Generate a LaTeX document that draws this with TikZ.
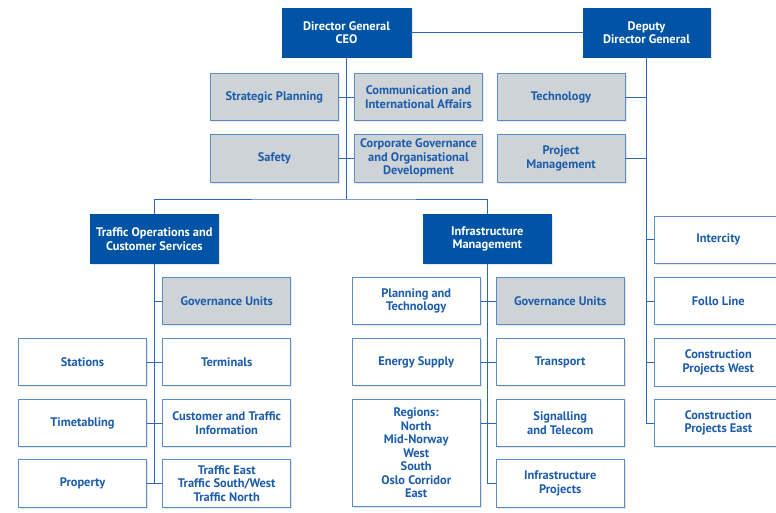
\documentclass[tikz,border=0pt]{standalone}
\usepackage{fontspec}
\setmainfont{PT Sans}
\usetikzlibrary{positioning,shadows}

\definecolor{nbblue}{HTML}{0053A5}
\definecolor{nbline}{HTML}{2F68B2}
\definecolor{nbedge}{HTML}{5C8CC8}
\definecolor{nbgray}{HTML}{CED3D7}
\definecolor{nbtext}{HTML}{1B5CAB}

\tikzset{
  unit/.style={draw=nbedge, line width=0.9pt, fill=white, text=nbtext,
    font=\bfseries\fontsize{12.4}{13.5}\selectfont, align=center,
    minimum width=128pt, minimum height=47.5pt, inner sep=1pt,
    drop shadow={shadow xshift=1.5pt, shadow yshift=-1.5pt, opacity=0.2}},
  staff/.style={unit, fill=nbgray},
  head/.style={unit, draw=nbblue, fill=nbblue, text=white, minimum height=49pt},
  link/.style={draw=nbline, line width=0.9pt},
}

\begin{document}
\begin{tikzpicture}[x=1pt, y=-1pt]
\useasboundingbox (0,0) rectangle (776,513);
\clip (0,0) rectangle (776,513);

% Top level
\node[head, minimum width=129pt] (dg) at (346.5,32.5) {Director General\\CEO};
\node[head, minimum width=127pt] (ddg) at (646.5,32.5) {Deputy\\Director General};

% Staff units
\node[staff] (strat) at (274.3,97) {Strategic Planning};
\node[staff] (comm) at (418.5,97) {Communication and\\International Affairs};
\node[staff] (safety) at (274.3,158.3) {Safety};
\node[staff] (corpgov) at (418.5,158.3) {Corporate Governance\\and Organisational\\Development};
\node[staff] (tech) at (561,97) {Technology};
\node[staff] (projmgmt) at (561,158.3) {Project\\Management};

% Divisions
\node[head] (traffic) at (154.3,239) {Traffic Operations and\\Customer Services};
\node[head] (infra) at (487.3,239) {Infrastructure\\Management};
\coordinate (bus) at (346.5,199);

% Traffic Operations and Customer Services
\node[staff] (govleft) at (226.7,301) {Governance Units};
\node[unit] (stations) at (82.5,362) {Stations};
\node[unit] (terminals) at (226.7,362) {Terminals};
\node[unit] (timetab) at (82.5,423) {Timetabling};
\node[unit] (custinfo) at (226.7,423) {Customer and Traffic\\Information};
\node[unit] (property) at (82.5,483.5) {Property};
\node[unit] (trafreg) at (226.7,483.5) {Traffic East\\Traffic South/West\\Traffic North};

% Infrastructure Management
\node[unit] (plantech) at (416.2,301) {Planning and\\Technology};
\node[staff] (govright) at (560.2,301) {Governance Units};
\node[unit] (energy) at (416.2,362) {Energy Supply};
\node[unit] (transport) at (560.2,362) {Transport};
\node[unit, minimum height=107.4pt] (regions) at (416.2,453) {Regions:\\North\\Mid-Norway\\West\\South\\Oslo Corridor\\East};
\node[unit] (signal) at (560.2,423) {Signalling\\and Telecom};
\node[unit] (infraproj) at (560.2,483.5) {Infrastructure\\Projects};

% Projects under the deputy
\node[unit] (intercity) at (718.3,239.7) {Intercity};
\node[unit] (follo) at (718.3,301) {Follo Line};
\node[unit] (cpwest) at (718.3,362.2) {Construction\\Projects West};
\node[unit] (cpeast) at (718.3,423) {Construction\\Projects East};

% Connectors
\draw[link] (dg.east) -- (ddg.west);
\draw[link] (dg.south) -- (bus);
\draw[link] (traffic.north) |- (bus) -| (infra.north);
\draw[link] (strat) -- (comm);
\draw[link] (safety) -- (corpgov);

\draw[link] (ddg.south) |- (cpeast.west);
\foreach \n in {tech, projmgmt} {
    \draw[link] (\n.east) -- (\n.east -| ddg.south);
}
\foreach \n in {intercity, follo, cpwest} {
    \draw[link] (\n.west) -- (\n.west -| ddg.south);
}

\draw[link] (traffic.south) |- (trafreg.west);
\draw[link] (govleft.west) -- (govleft.west -| traffic.south);
\foreach \a/\b in {stations/terminals, timetab/custinfo, property/trafreg} {
    \draw[link] (\a) -- (\b);
}

\draw[link] (infra.south) |- (infraproj.west);
\draw[link] (plantech) -- (govright);
\draw[link] (energy) -- (transport);
\draw[link] (signal.west) -- (signal.west -| regions.east);
\end{tikzpicture}
\end{document}
